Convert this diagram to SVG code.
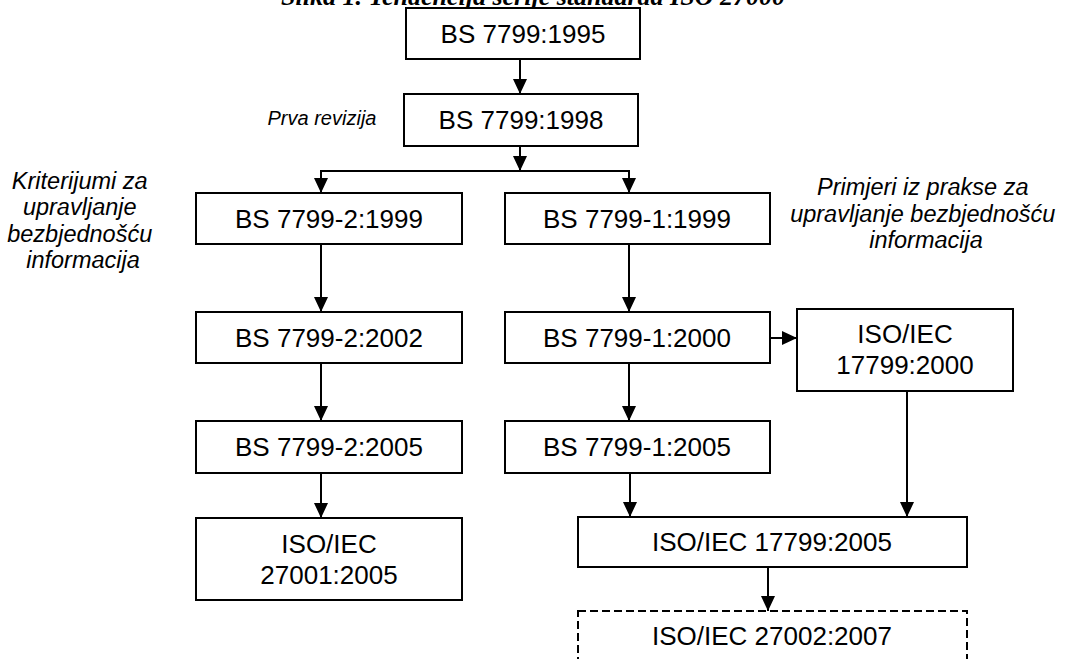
<svg xmlns="http://www.w3.org/2000/svg" width="1066" height="659" viewBox="0 0 1066 659">
  <defs>
    <marker id="arrow" viewBox="0 0 15 14" refX="15" refY="7" markerWidth="15" markerHeight="14" markerUnits="userSpaceOnUse" orient="auto">
      <path d="M0,0 L15,7 L0,14 z" fill="#000"/>
    </marker>
    <style>
      .box { fill: #fff; stroke: #000; stroke-width: 2; }
      .dashed { fill: #fff; stroke: #000; stroke-width: 2; stroke-dasharray: 8 4; }
      .lbl { font-family: "Liberation Sans", Arial, sans-serif; font-size: 26px; fill: #000; text-anchor: middle; }
      .note { font-family: "Liberation Sans", Arial, sans-serif; font-size: 23.5px; font-style: italic; fill: #000; text-anchor: middle; }
      .note-sm { font-family: "Liberation Sans", Arial, sans-serif; font-size: 20px; font-style: italic; fill: #000; text-anchor: middle; }
      .title { font-family: "Liberation Serif", "Times New Roman", serif; font-size: 26px; font-weight: bold; font-style: italic; fill: #000; text-anchor: middle; }
      .wire { fill: none; stroke: #000; stroke-width: 2; }
    </style>
  </defs>

  <rect width="1066" height="659" fill="#fff"/>

  <text class="title" x="533" y="5">Slika 1. Tendencija serije standarda ISO 27000</text>

  <!-- side notes -->
  <text class="note-sm" x="322" y="125">Prva revizija</text>
  <text class="note">
    <tspan x="83" y="189">Kriterijumi za</tspan>
    <tspan x="83" y="215">upravljanje</tspan>
    <tspan x="83" y="242">bezbjednošću</tspan>
    <tspan x="83" y="268">informacija</tspan>
  </text>
  <text class="note">
    <tspan x="926" y="195">Primjeri iz prakse za</tspan>
    <tspan x="926" y="222">upravljanje bezbjednošću</tspan>
    <tspan x="926" y="248">informacija</tspan>
  </text>

  <!-- connectors -->
  <g id="connectors">
    <line class="wire" x1="520" y1="59" x2="520" y2="94" marker-end="url(#arrow)"/>
    <line class="wire" x1="520" y1="146" x2="520" y2="171" marker-end="url(#arrow)"/>
    <line class="wire" x1="320" y1="171" x2="630" y2="171"/>
    <line class="wire" x1="321" y1="170" x2="321" y2="193" marker-end="url(#arrow)"/>
    <line class="wire" x1="629" y1="170" x2="629" y2="193" marker-end="url(#arrow)"/>
    <line class="wire" x1="321" y1="244" x2="321" y2="312" marker-end="url(#arrow)"/>
    <line class="wire" x1="629" y1="244" x2="629" y2="312" marker-end="url(#arrow)"/>
    <line class="wire" x1="771" y1="338" x2="797" y2="338" marker-end="url(#arrow)"/>
    <line class="wire" x1="321" y1="363" x2="321" y2="421" marker-end="url(#arrow)"/>
    <line class="wire" x1="629" y1="363" x2="629" y2="421" marker-end="url(#arrow)"/>
    <line class="wire" x1="321" y1="473" x2="321" y2="518" marker-end="url(#arrow)"/>
    <line class="wire" x1="630" y1="473" x2="630" y2="517" marker-end="url(#arrow)"/>
    <line class="wire" x1="907" y1="391" x2="907" y2="517" marker-end="url(#arrow)"/>
    <line class="wire" x1="768" y1="567" x2="768" y2="611" marker-end="url(#arrow)"/>
  </g>

  <!-- nodes -->
  <g id="bs1995">
    <rect class="box" x="406" y="8" width="234" height="51"/>
    <text class="lbl" x="523" y="43">BS 7799:1995</text>
  </g>
  <g id="bs1998">
    <rect class="box" x="404" y="94" width="234" height="52"/>
    <text class="lbl" x="521" y="129">BS 7799:1998</text>
  </g>
  <g id="bs2-1999">
    <rect class="box" x="196" y="193" width="266" height="51"/>
    <text class="lbl" x="329" y="228">BS 7799-2:1999</text>
  </g>
  <g id="bs1-1999">
    <rect class="box" x="505" y="193" width="265" height="51"/>
    <text class="lbl" x="637" y="228">BS 7799-1:1999</text>
  </g>
  <g id="bs2-2002">
    <rect class="box" x="196" y="312" width="266" height="51"/>
    <text class="lbl" x="329" y="347">BS 7799-2:2002</text>
  </g>
  <g id="bs1-2000">
    <rect class="box" x="505" y="312" width="265" height="51"/>
    <text class="lbl" x="637" y="347">BS 7799-1:2000</text>
  </g>
  <g id="iso17799-2000">
    <rect class="box" x="797" y="309" width="216" height="82"/>
    <text class="lbl" x="905" y="343">ISO/IEC</text>
    <text class="lbl" x="905" y="374">17799:2000</text>
  </g>
  <g id="bs2-2005">
    <rect class="box" x="196" y="421" width="266" height="52"/>
    <text class="lbl" x="329" y="456">BS 7799-2:2005</text>
  </g>
  <g id="bs1-2005">
    <rect class="box" x="505" y="421" width="265" height="52"/>
    <text class="lbl" x="637" y="456">BS 7799-1:2005</text>
  </g>
  <g id="iso27001-2005">
    <rect class="box" x="196" y="518" width="266" height="82"/>
    <text class="lbl" x="329" y="553">ISO/IEC</text>
    <text class="lbl" x="329" y="584">27001:2005</text>
  </g>
  <g id="iso17799-2005">
    <rect class="box" x="578" y="517" width="389" height="50"/>
    <text class="lbl" x="772" y="551">ISO/IEC 17799:2005</text>
  </g>
  <g id="iso27002-2007">
    <rect class="dashed" x="578" y="611" width="389" height="70"/>
    <text class="lbl" x="772" y="645">ISO/IEC 27002:2007</text>
  </g>
</svg>
